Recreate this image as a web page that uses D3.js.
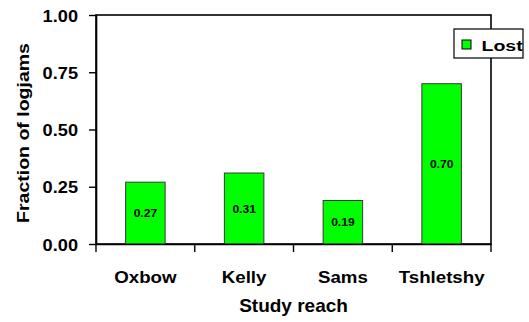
<!DOCTYPE html>
<html>
<head>
<meta charset="utf-8">
<script src="https://cdn.jsdelivr.net/npm/d3@7"></script>
<style>
  html, body { margin: 0; padding: 0; background: #fff; }
  svg { display: block; }
  text { font-family: "Liberation Sans", Arial, Helvetica, sans-serif; font-weight: bold; fill: #000; }
</style>
</head>
<body>
<svg id="chart" width="529" height="322"></svg>
<script>
// Fraction of logjams lost per study reach
const reaches = ["Oxbow", "Kelly", "Sams", "Tshletshy"];
const lost = [0.27, 0.31, 0.19, 0.70];
const yTicks = [0, 0.25, 0.5, 0.75, 1.0];
const seriesName = "Lost";
const xTitle = "Study reach";
const yTitle = "Fraction of logjams";

const W = 529, H = 322;
const m = { left: 96, right: 491, top: 15, bottom: 244 };

const svg = d3.select("#chart");

const x = d3.scaleBand()
  .domain(reaches)
  .range([m.left, m.right])
  .paddingInner(0.6)
  .paddingOuter(0.3);

const y = d3.scaleLinear().domain([0, 1]).range([m.bottom, m.top]);

// frame around the plot area
svg.append("rect")
  .attr("x", m.left).attr("y", m.top)
  .attr("width", m.right - m.left).attr("height", m.bottom - m.top)
  .attr("fill", "none").attr("stroke", "#000").attr("stroke-width", 1.6);

// bars
svg.append("g").selectAll("rect")
  .data(reaches)
  .join("rect")
  .attr("x", d => x(d))
  .attr("y", (d, i) => y(lost[i]))
  .attr("width", x.bandwidth())
  .attr("height", (d, i) => y(0) - y(lost[i]))
  .attr("fill", "#00ff00")
  .attr("stroke", "#3a3a3a")
  .attr("stroke-width", 1);

// value labels, centred inside each bar
svg.append("g").selectAll("text")
  .data(reaches)
  .join("text")
  .attr("text-anchor", "middle")
  .attr("font-size", 11.5)
  .attr("transform", (d, i) => {
    const cx = x(d) + x.bandwidth() / 2;
    const cy = (y(lost[i]) + y(0)) / 2 + 4;
    return `translate(${cx},${cy}) scale(1.05,1)`;
  })
  .text((d, i) => lost[i].toFixed(2));

// y axis
const yAxis = svg.append("g")
  .attr("transform", `translate(${m.left},0)`)
  .call(d3.axisLeft(y).tickValues(yTicks).tickFormat(d3.format(".2f")).tickSize(7).tickPadding(11).tickSizeOuter(0));
yAxis.select(".domain").attr("stroke-width", 1.6);
yAxis.selectAll(".tick line").attr("stroke-width", 1.4);
yAxis.selectAll(".tick text")
  .attr("font-size", 17)
  .attr("font-family", null)
  .attr("x", null).attr("dy", null)
  .attr("transform", "translate(-18,6) scale(1.07,1)");

// x axis: labels at band centres, ticks at band boundaries
const xAxis = svg.append("g")
  .attr("transform", `translate(0,${m.bottom})`)
  .call(d3.axisBottom(x).tickSize(0).tickPadding(0).tickSizeOuter(0));
xAxis.select(".domain").attr("stroke-width", 1.6);
xAxis.selectAll(".tick text")
  .attr("font-size", 17)
  .attr("font-family", null)
  .attr("y", null).attr("dy", null)
  .attr("transform", "translate(0,39) scale(1.1,1)");

const bounds = reaches.map(d => x(d) - x.step() * x.paddingInner() / 2 - (reaches.indexOf(d) === 0 ? x.step() * (x.paddingOuter() - x.paddingInner() / 2) : 0));
bounds.push(m.right);
svg.append("g").selectAll("line")
  .data(bounds)
  .join("line")
  .attr("x1", d => d).attr("x2", d => d)
  .attr("y1", m.bottom).attr("y2", m.bottom + 8)
  .attr("stroke", "#000").attr("stroke-width", 1.4);

// axis titles
svg.append("text")
  .attr("text-anchor", "middle")
  .attr("font-size", 19)
  .attr("transform", `translate(${(m.left + m.right) / 2},312) scale(1.0,1)`)
  .text(xTitle);

svg.append("text")
  .attr("text-anchor", "middle")
  .attr("font-size", 16)
  .attr("transform", `translate(29,133) rotate(-90) scale(1.22,1)`)
  .text(yTitle);

// legend
const lg = svg.append("g").attr("transform", "translate(454,29)");
lg.append("rect")
  .attr("width", 69).attr("height", 29)
  .attr("fill", "#fff").attr("stroke", "#000").attr("stroke-width", 1.2);
lg.append("rect")
  .attr("x", 8).attr("y", 11).attr("width", 9).attr("height", 9)
  .attr("fill", "#00ff00").attr("stroke", "#000").attr("stroke-width", 1);
lg.append("text")
  .attr("font-size", 15.5)
  .attr("transform", "translate(27.5,22) scale(1.26,1)")
  .text(seriesName);
</script>
</body>
</html>
